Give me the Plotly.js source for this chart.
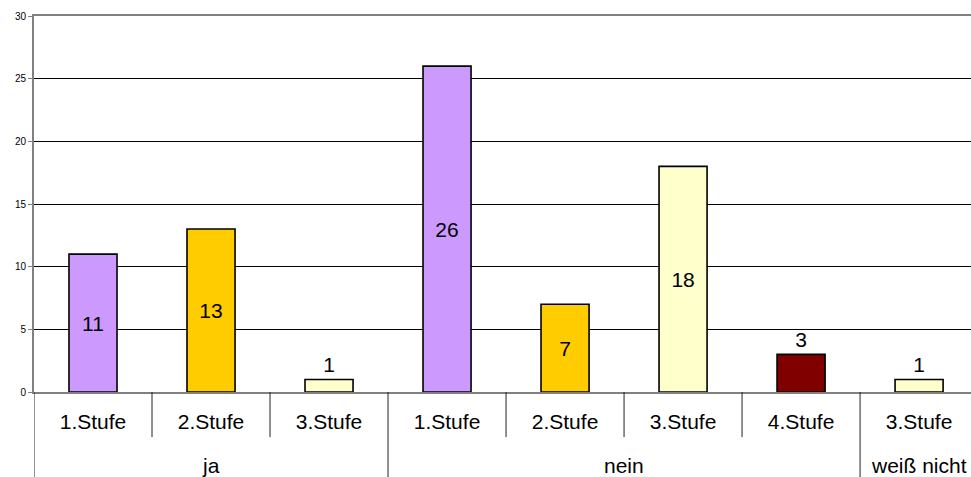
<!DOCTYPE html>
<html>
<head>
<meta charset="utf-8">
<script src="https://cdn.plot.ly/plotly-3.0.1.min.js"></script>
<style>
  html, body { margin: 0; padding: 0; background: #fff; }
  #chart { width: 971px; height: 477px; }
</style>
</head>
<body>
<div id="chart"></div>
<script>
// Answers grouped by main answer, then by level
const stufen = ['1.Stufe', '2.Stufe', '3.Stufe', '1.Stufe', '2.Stufe', '3.Stufe', '4.Stufe', '3.Stufe'];
const gruppen = ['ja', 'nein', 'weiß nicht'];
const gruppenGroesse = [3, 4, 1];
const werte = [11, 13, 1, 26, 7, 18, 3, 1];
const stufeFarben = {
  '1.Stufe': '#CC99FF',
  '2.Stufe': '#FFCC00',
  '3.Stufe': '#FFFFCC',
  '4.Stufe': '#800000'
};

const pos = stufen.map((_, i) => i);
const farben = stufen.map(s => stufeFarben[s]);
const textLage = werte.map(v => v >= 5 ? 'inside' : 'outside');

const trace = {
  type: 'bar',
  x: pos,
  y: werte,
  width: 0.407,
  marker: { color: farben, line: { color: '#000', width: 1.6 } },
  text: werte.map(String),
  textposition: textLage,
  insidetextanchor: 'middle',
  textfont: { family: 'Liberation Sans, Arial, sans-serif', size: 21, color: '#000' },
  insidetextfont: { color: '#000' },
  outsidetextfont: { color: '#000' },
  cliponaxis: false,
  constraintext: 'none',
  hoverinfo: 'skip'
};

// separators between levels (short) and between groups (full height)
const shapes = [];
const annotations = [];
const grenzen = [];
let start = 0;
gruppenGroesse.forEach((n, g) => {
  const mitte = start + (n - 1) / 2;
  annotations.push({
    x: mitte, xref: 'x', y: -0.195, yref: 'paper',
    text: gruppen[g], showarrow: false,
    xanchor: 'center', yanchor: 'middle',
    font: { family: 'Liberation Sans, Arial, sans-serif', size: 21, color: '#000' }
  });
  start += n;
  grenzen.push(start);
});
for (let i = 1; i < stufen.length; i++) {
  const full = grenzen.includes(i);
  shapes.push({
    type: 'line', xref: 'x', yref: 'paper',
    x0: i - 0.5, x1: i - 0.5, y0: 0, y1: full ? -0.23 : -0.12,
    line: { color: '#222', width: 1 }
  });
}
// left border below the axis
shapes.push({
  type: 'line', xref: 'x', yref: 'paper',
  x0: -0.5, x1: -0.5, y0: 0, y1: -0.23,
  line: { color: '#222', width: 1 }
});

const layout = {
  width: 971, height: 477,
  margin: { l: 34, r: 0, t: 16, b: 85 },
  paper_bgcolor: '#fff', plot_bgcolor: '#fff',
  showlegend: false,
  font: { family: 'Liberation Sans, Arial, sans-serif', color: '#000' },
  xaxis: {
    range: [-0.5, 7.44],
    tickvals: pos, ticktext: stufen,
    ticks: '', showgrid: false, zeroline: false,
    showline: true, linecolor: '#808080', linewidth: 2, mirror: true,
    tickfont: { size: 21, color: '#000' },
    ticklabelstandoff: 10,
    fixedrange: true
  },
  yaxis: {
    range: [0, 30], dtick: 5, tick0: 0,
    ticks: 'outside', ticklen: 4, tickcolor: '#808080', tickwidth: 1,
    showgrid: true, gridcolor: '#000', gridwidth: 1,
    zeroline: false,
    showline: true, linecolor: '#808080', linewidth: 2,
    tickfont: { size: 10, color: '#000' },
    fixedrange: true
  },
  shapes: shapes,
  annotations: annotations
};

Plotly.newPlot('chart', [trace], layout, { displayModeBar: false, staticPlot: true });
</script>
</body>
</html>
